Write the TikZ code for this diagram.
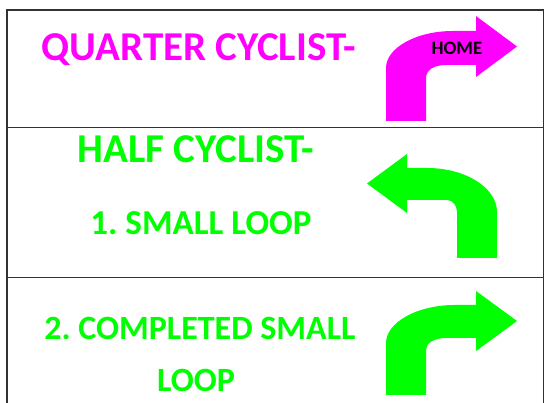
\documentclass[tikz,border=0pt]{standalone}
\usepackage{fontspec}
\setmainfont{Carlito}
\frenchspacing
\definecolor{mag}{RGB}{255,0,255}
\definecolor{grn}{RGB}{0,255,0}
\definecolor{rule}{RGB}{50,50,50}
\tikzset{
  cellline/.style={draw=rule, line width=1.5pt},
  bigtext/.style={anchor=base, inner sep=0pt, font=\fontsize{41}{49}\selectfont\bfseries},
  midtext/.style={anchor=base, inner sep=0pt, font=\fontsize{35}{42}\selectfont\bfseries},
  lowtext/.style={anchor=base, inner sep=0pt, font=\fontsize{34}{41}\selectfont\bfseries},
  hometext/.style={anchor=base, inner sep=0pt, font=\fontsize{19}{23}\selectfont\bfseries, text=black},
  arrowfill/.style={draw=none}
}
\begin{document}
\begin{tikzpicture}[x=1pt,y=-1pt]
\useasboundingbox (0,0) rectangle (544,403);
% table grid
\draw[cellline] (7,405) -- (7,10) -- (543.5,10) -- (543.5,405);
\draw[cellline] (7,127.5) -- (544,127.5);
\draw[cellline] (7,277.5) -- (544,277.5);
% arrows
\fill[mag, arrowfill] (386,121) -- (386,68) .. controls (386,48) and (416,31) .. (453,31)
  -- (476,31) -- (476,16) -- (517,46.5) -- (476,77) -- (476,65) -- (446,65)
  .. controls (434,65) and (426,70) .. (426,78) -- (426,121) -- cycle;
\fill[grn, arrowfill] (497,258) -- (497,212) .. controls (497,188) and (466,168) .. (427,168)
  -- (407,168) -- (407,154) -- (367,183.5) -- (407,213) -- (407,200) -- (447,200)
  .. controls (452.5,200) and (457,205.4) .. (457,212) -- (457,258) -- cycle;
\fill[grn, arrowfill] (386,395) -- (386,343) .. controls (386,323) and (416,305) .. (455,305)
  -- (476,305) -- (476,291) -- (517,321) -- (476,351) -- (476,338) -- (446,338)
  .. controls (434,338) and (426,343) .. (426,350) -- (426,395) -- cycle;
% texts
\node[bigtext, text=mag] (quarter) at (199,61) {QUARTER CYCLIST-};
\node[hometext] (home) at (457,54.5) {HOME};
\node[bigtext, text=grn] (half) at (196,163) {HALF CYCLIST-};
\node[midtext, text=grn] (small) at (201,235) {1. SMALL LOOP};
\node[lowtext, text=grn] (completed) at (200,340) {2. COMPLETED SMALL};
\node[lowtext, text=grn] (loop) at (196,392) {LOOP};
\end{tikzpicture}
\end{document}
